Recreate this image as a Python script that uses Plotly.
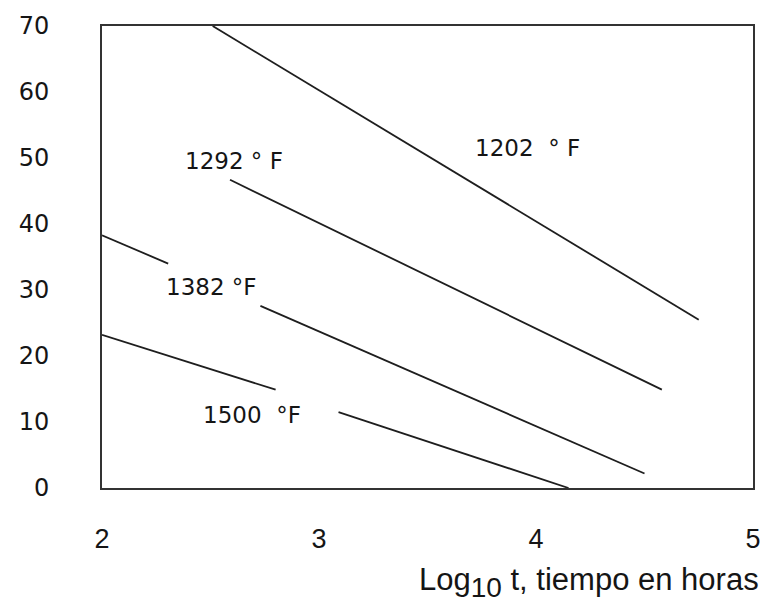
import plotly.graph_objects as go

# ---- data ----
x_1202 = [2.51, 4.75]
y_1202 = [70.0, 25.5]

x_1292 = [2.59, 4.58]
y_1292 = [46.7, 14.9]

x_1382_a = [2.00, 2.305]
y_1382_a = [38.3, 34.0]
x_1382_b = [2.73, 4.50]
y_1382_b = [27.6, 2.2]

x_1500_a = [2.00, 2.80]
y_1500_a = [23.2, 14.9]
x_1500_b = [3.09, 4.15]
y_1500_b = [11.5, 0.0]

label_text = ["1202  \u00b0 F", "1292 \u00b0 F", "1382 \u00b0F", "1500  \u00b0F"]
label_x = [3.96, 2.61, 2.505, 2.69]
label_y = [51.5, 49.5, 30.4, 11.1]

x_ticks = [2, 3, 4, 5]
y_ticks = [0, 10, 20, 30, 40, 50, 60, 70]

x_title = "Log<sub><span style='font-size:28px'>10</span></sub> t, tiempo en horas"

LINE = dict(color="#1e1e1e", width=1.8)
TXT = "#151515"

fig = go.Figure()
segments = [
    (x_1202, y_1202), (x_1292, y_1292),
    (x_1382_a, y_1382_a), (x_1382_b, y_1382_b),
    (x_1500_a, y_1500_a), (x_1500_b, y_1500_b),
]
for xs, ys in segments:
    fig.add_trace(go.Scatter(x=xs, y=ys, mode="lines", line=LINE,
                             showlegend=False, hoverinfo="skip"))

for t, xx, yy in zip(label_text, label_x, label_y):
    fig.add_annotation(x=xx, y=yy, text=t, showarrow=False,
                       font=dict(family="DejaVu Sans", size=23, color=TXT))

fig.add_annotation(xref="paper", yref="paper", x=1.012, y=-0.205,
                   xanchor="right", yanchor="middle", text=x_title, showarrow=False,
                   font=dict(family="Liberation Sans", size=31, color=TXT))

fig.update_layout(
    width=773, height=606,
    margin=dict(l=102, r=12, t=14, b=118),
    paper_bgcolor="white", plot_bgcolor="white",
    xaxis=dict(range=[2, 5], tickvals=x_ticks, showgrid=False, zeroline=False,
               showline=True, mirror=True, linecolor="#333333", linewidth=2,
               ticks="", ticklabelstandoff=26,
               tickfont=dict(family="Liberation Sans", size=27, color=TXT)),
    yaxis=dict(range=[0, 70], tickvals=y_ticks, showgrid=False, zeroline=False,
               showline=True, mirror=True, linecolor="#333333", linewidth=2,
               ticks="", ticklabelstandoff=46,
               tickfont=dict(family="DejaVu Sans", size=24, color=TXT)),
)

fig.write_html("out.html")
